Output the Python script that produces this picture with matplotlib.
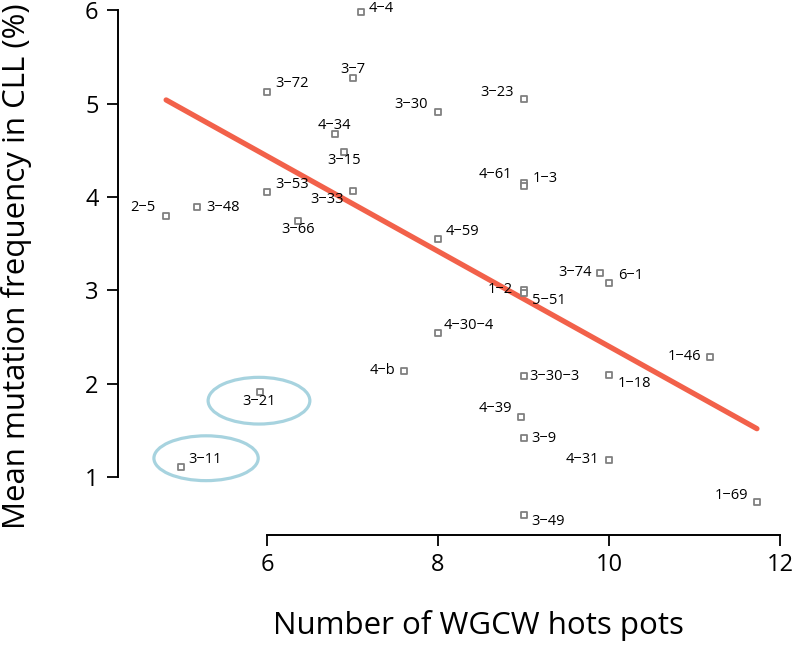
import numpy as np
import matplotlib.pyplot as plt
from matplotlib.patches import Ellipse

plt.rcParams['font.family'] = ['Open Sans', 'DejaVu Sans']

# IGHV segments: number of WGCW hotspots vs mean mutation frequency (%)
names = ['4-4', '3-7', '3-72', '3-30', '3-23', '4-34', '3-15', '4-61', '1-3',
         '3-53', '3-33', '2-5', '3-48', '3-66', '4-59', '3-74', '6-1', '1-2',
         '5-51', '4-30-4', '4-b', '1-46', '3-30-3', '1-18', '4-39', '3-9',
         '4-31', '1-69', '3-49', '3-21', '3-11']
hotspots = [7.1, 7.0, 6.0, 8.0, 9.0, 6.8, 6.9, 9.0, 9.0,
            6.0, 7.0, 4.82, 5.18, 6.36, 8.0, 9.9, 10.0, 9.0,
            9.0, 8.0, 7.6, 11.18, 9.0, 10.0, 8.97, 9.0,
            10.0, 11.73, 9.0, 5.92, 4.99]
freq = [5.98, 5.28, 5.13, 4.91, 5.05, 4.68, 4.48, 4.15, 4.12,
        4.05, 4.06, 3.80, 3.89, 3.74, 3.55, 3.19, 3.08, 3.01,
        2.97, 2.54, 2.14, 2.29, 2.08, 2.09, 1.65, 1.42,
        1.19, 0.73, 0.60, 1.91, 1.11]
circled = ['3-21', '3-11']  # outliers, left out of the fit

# label offsets in pixels (dx, dy up, alignment)
offs = {
    '4-4': (8, 4, 'left'), '3-7': (0, 8, 'center'), '3-72': (8, 8, 'left'),
    '3-30': (-10, 8, 'right'), '3-23': (-10, 7, 'right'), '4-34': (-1, 8, 'center'),
    '3-15': (0, -8, 'center'), '4-61': (-11, 9, 'right'), '1-3': (9, 7, 'left'),
    '3-53': (8, 8, 'left'), '3-33': (-9, -8, 'right'), '2-5': (-11, 8, 'right'),
    '3-48': (9, 0, 'left'), '3-66': (0, -8, 'center'), '4-59': (8, 8, 'left'),
    '3-74': (-9, 0, 'right'), '6-1': (9, 8, 'left'), '1-2': (-11, 0, 'right'),
    '5-51': (8, -7, 'left'), '4-30-4': (6, 8, 'left'), '4-b': (-8, 0, 'right'),
    '1-46': (-9, 0, 'right'), '3-30-3': (6, 0, 'left'), '1-18': (9, -8, 'left'),
    '4-39': (-9, 8, 'right'), '3-9': (8, 0, 'left'), '4-31': (-10, 0, 'right'),
    '1-69': (-9, 7, 'right'), '3-49': (8, -7, 'left'), '3-21': (-1, -9, 'center'),
    '3-11': (8, 8, 'left'),
}

x = np.array(hotspots)
y = np.array(freq)
keep = np.array([n not in circled for n in names])

fig = plt.figure(figsize=(7.95, 6.5), dpi=100)
ax = fig.add_axes([118/795, 115/650, 662/795, 535/650])

ax.scatter(x, y, marker='s', s=16, facecolors='white', edgecolors='#808080',
           linewidths=1.3, zorder=3)
for n, xi, yi in zip(names, x, y):
    dx, dy, ha = offs[n]
    ax.annotate(n.replace('-', '\u2212'), (xi, yi), xytext=(dx*0.72, dy*0.72),
                textcoords='offset points', ha=ha, va='center', fontsize=10.5,
                annotation_clip=False)

# linear fit without the circled points
b, a = np.polyfit(x[keep], y[keep], 1)
xs = np.array([x[keep].min(), x[keep].max()])
ax.plot(xs, a + b*xs, color='#f2614a', lw=3.8, solid_capstyle='round', zorder=2)

ax.add_patch(Ellipse((5.906, 1.82), 1.19, 0.50, fill=False, ec='#a7d3df', lw=2.3))
ax.add_patch(Ellipse((5.287, 1.204), 1.22, 0.48, fill=False, ec='#a7d3df', lw=2.3))

ax.set_xlim(4.257, 12.0)
ax.set_ylim(0.382, 6.11)
ax.set_xticks([6, 8, 10, 12])
ax.set_yticks([1, 2, 3, 4, 5, 6])
for s in ['top', 'right']:
    ax.spines[s].set_visible(False)
ax.spines['left'].set_bounds(1, 6)
ax.spines['bottom'].set_bounds(6, 12)
for s in ['left', 'bottom']:
    ax.spines[s].set_linewidth(1.4)
ax.tick_params(axis='both', length=8, width=1.3, labelsize=17, direction='out')
ax.tick_params(axis='y', pad=6)
ax.tick_params(axis='x', pad=5)

fig.text(1/795, 1 - 266/650, 'Mean mutation frequency in CLL (%)', rotation=90,
         ha='left', va='center', fontsize=22.5)
fig.text(478/795, 1 - 634/650, 'Number of WGCW hots pots', ha='center',
         va='baseline', fontsize=22.5)

fig.savefig('out.png', dpi=100)
